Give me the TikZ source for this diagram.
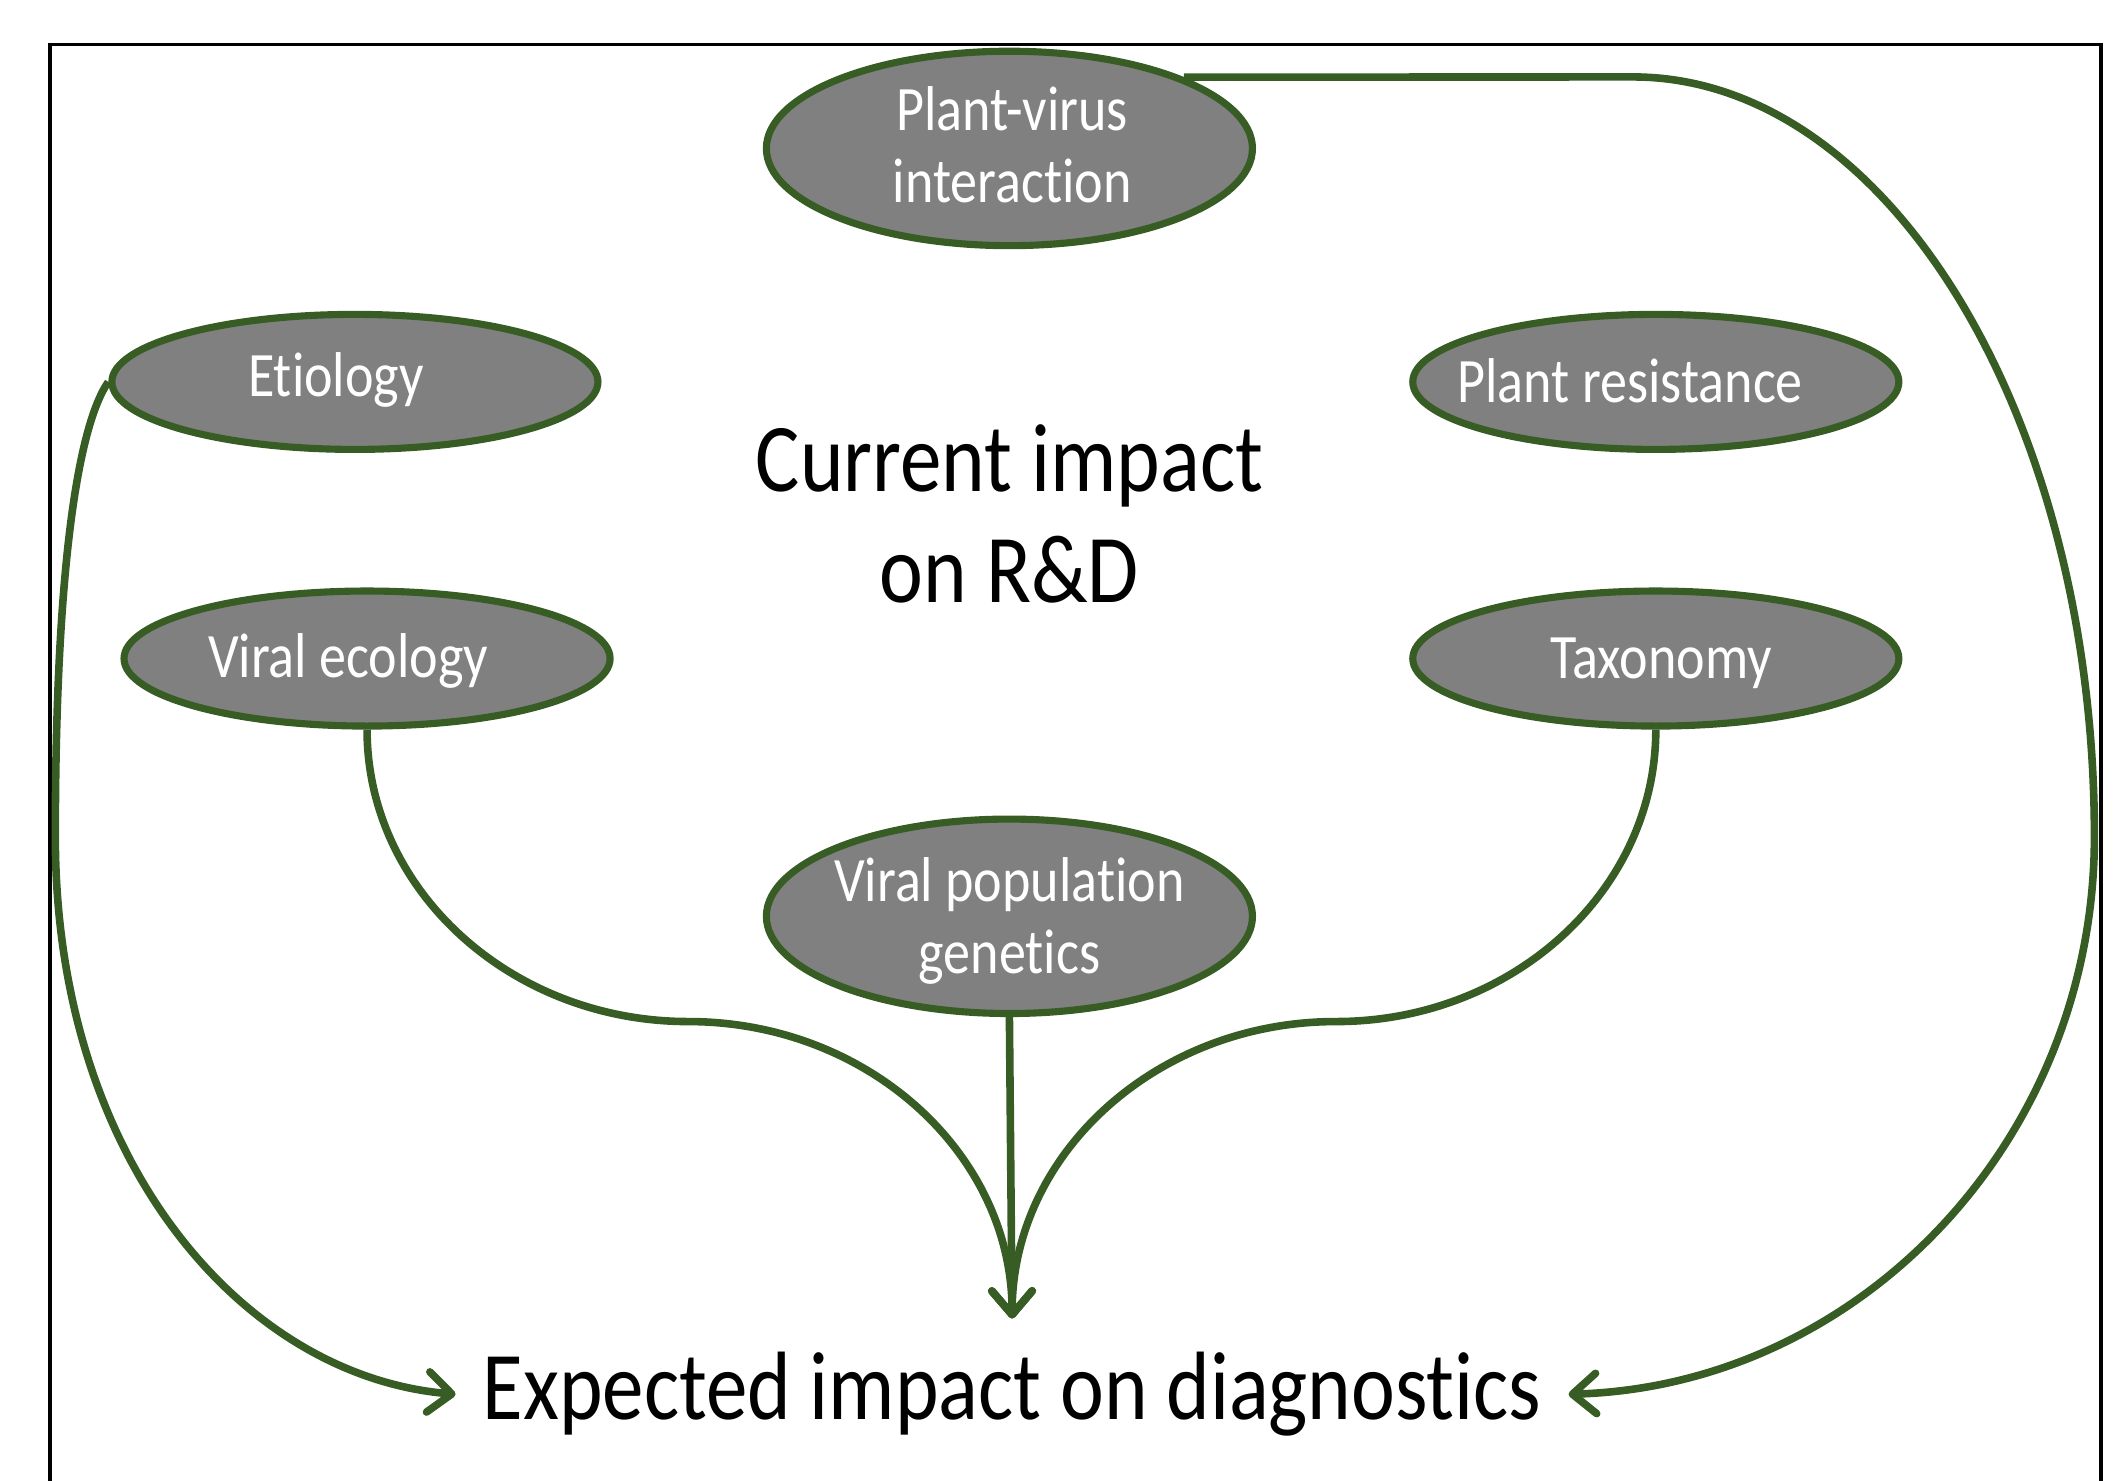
\documentclass[tikz,border=0pt]{standalone}
\usepackage{fontspec}
\setmainfont{Carlito}[Ligatures={NoCommon,NoContextual}]
\usetikzlibrary{shapes.geometric,arrows.meta}
\definecolor{lgreen}{RGB}{55,93,37}
\definecolor{egray}{RGB}{128,128,128}
\newcommand{\vstretch}[1]{\scalebox{1}[1.17]{#1}}
\begin{document}
\begin{tikzpicture}[x=0.01cm,y=-0.01cm,
  topic/.style={ellipse, draw=lgreen, fill=egray, line width=1.5pt,
    minimum width=3.6cm, minimum height=1.0cm, inner sep=0pt},
  bigtopic/.style={topic, minimum height=1.44cm},
  etext/.style={text=white, font=\fontsize{11.4}{12.9}\selectfont, inner sep=0pt},
  btext/.style={text=black, font=\fontsize{17.5}{19.9}\selectfont, inner sep=0pt},
  conn/.style={draw=lgreen, line width=1.6pt, -{Straight Barb[length=5pt,width=8.5pt,round]}},
]
\useasboundingbox (0,0) rectangle (1568,1097);
\clip (0,0) rectangle (1568,1097);
\draw[line width=0.8pt] (37,1120) -- (37,33) -- (1557,33) -- (1557,1120);

% ellipses
\node[bigtopic] (pv)  at (748,110) {};
\node[topic]    (eti) at (263,283) {};
\node[topic]    (pr)  at (1227,283) {};
\node[topic]    (ve)  at (272,488) {};
\node[topic]    (tax) at (1227,488) {};
\node[bigtopic] (vpg) at (748,679) {};

% ellipse texts
\node[etext] (pvt) at (750,113) {\vstretch{\begin{tabular}{@{}c@{}}Plant-virus\\interaction\end{tabular}}};
\node[etext, anchor=base] (etit) at (249,294) {\vstretch{Etiology}};
\node[etext, anchor=base] (prt)  at (1208,298) {\vstretch{Plant resistance}};
\node[etext, anchor=base] (vet)  at (258,502) {\vstretch{Viral ecology}};
\node[etext, anchor=base] (taxt) at (1231,503) {\vstretch{Taxonomy}};
\node[etext] (vpgt) at (748,684) {\vstretch{\begin{tabular}{@{}c@{}}Viral population\\genetics\end{tabular}}};

% big texts
\node[btext] (cur) at (748,389) {\vstretch{\begin{tabular}{@{}c@{}}Current impact\\on R\&D\end{tabular}}};
\node[btext, anchor=base, outer xsep=0.2cm] (exp) at (750,1052) {\vstretch{Expected impact on diagnostics}};

\coordinate (tip) at (750,977);

% connectors
\draw[conn] (pv.north east) -- (1210,57)
  .. controls (1399,57) and (1552,309) .. (1552,620)
  .. controls (1552,845) and (1378,1027) .. (exp.east);
\draw[conn] (eti.west) .. controls (58,315) and (41,420) .. (41,620)
  .. controls (41,860) and (180,1020) .. (exp.west);
\draw[conn] (ve.south) .. controls (272,660) and (379,757) .. (510,757)
  .. controls (643,757) and (750,855) .. (tip);
\draw[conn] (tax.south) .. controls (1227,660) and (1121,757) .. (990,757)
  .. controls (857,757) and (750,855) .. (tip);
\draw[conn] (vpg.south) -- (tip);
\end{tikzpicture}
\end{document}
